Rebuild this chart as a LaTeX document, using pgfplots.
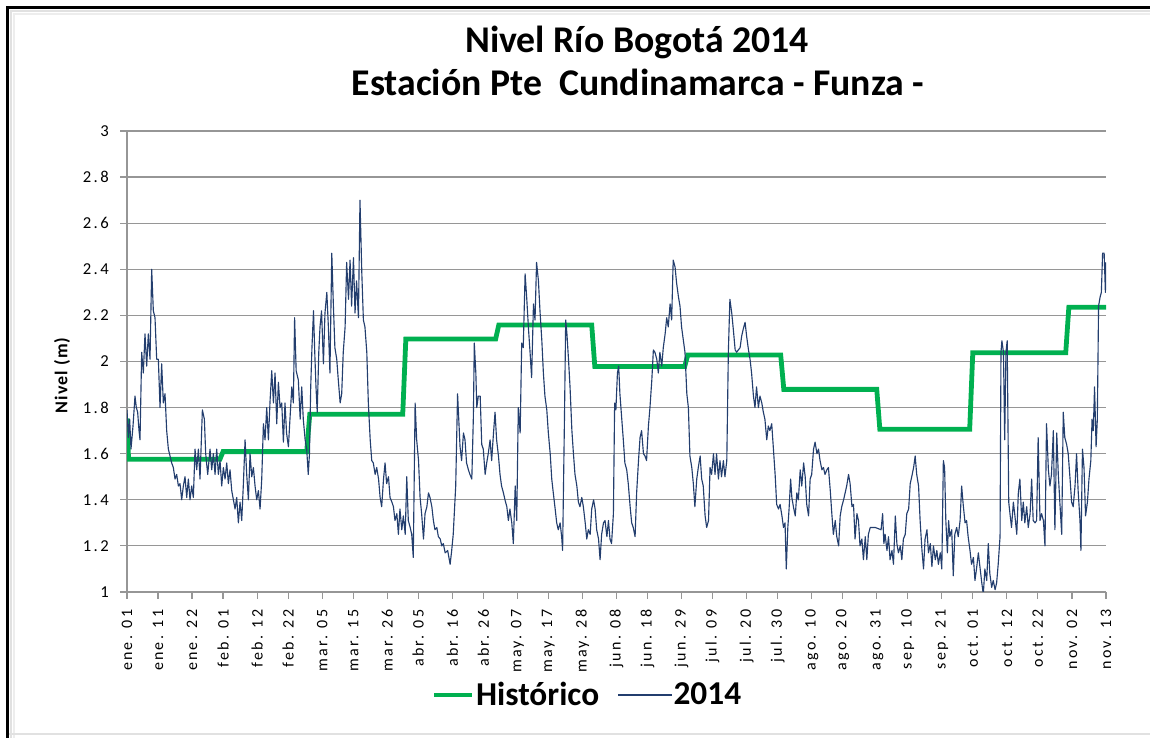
\documentclass[border=0pt]{standalone}
\usepackage{pgfplots}
\pgfplotsset{compat=1.18}
\usepackage{fontspec}
\setmainfont{Carlito}
\newfontfamily\tickfont[LetterSpace=14]{Carlito}
\newfontfamily\ylabfont[LetterSpace=6]{Carlito}
\definecolor{histgreen}{RGB}{0,176,80}
\definecolor{navy}{RGB}{35,62,110}
\definecolor{gridgray}{RGB}{150,150,150}
\definecolor{framegray}{RGB}{225,225,225}
\begin{document}
\begin{tikzpicture}[x=0.75pt,y=0.75pt]
\path[use as bounding box] (0,0) rectangle (1150,738);
% frame of the screenshot
\draw[framegray, line width=1.1pt] (11,0) -- (11,727) -- (1150,727);
\draw[framegray!60, line width=1.1pt] (14,0) -- (14,724) -- (1150,724);
\draw[framegray, line width=1.1pt] (7.5,4) -- (1150,4);
\draw[black, line width=2.25pt] (7.5,0) -- (7.5,730.5) -- (1150,730.5);
% titles
\node[font=\bfseries\fontsize{28.3}{30}\selectfont, anchor=base, inner sep=0pt] at (637,685) {Nivel Río Bogotá 2014};
\node[font=\bfseries\fontsize{28.3}{30}\selectfont, anchor=base, inner sep=0pt] at (638,642) {Estación Pte\ \ Cundinamarca - Funza -};
\begin{axis}[
  at={(95.25pt,109.5pt)}, anchor=south west,
  scale only axis, width=734.25pt, height=345.75pt,
  xmin=0, xmax=316, ymin=1, ymax=3,
  axis x line*=bottom, axis y line*=left,
  axis line style={gridgray, line width=1pt, -},
  ytick={1,1.2,1.4,1.6,1.8,2,2.2,2.4,2.6,2.8,3},
  yticklabels={1,1.2,1.4,1.6,1.8,2,2.2,2.4,2.6,2.8,3},
  ymajorgrids, grid style={gridgray, line width=0.9pt},
  xtick={0,10,21,31,42,52,63,73,84,94,105,115,126,136,147,158,168,179,189,200,210,221,231,242,252,263,273,284,294,305,316},
  xticklabels={ene. 01,ene. 11,ene. 22,feb. 01,feb. 12,feb. 22,mar. 05,mar. 15,mar. 26,abr. 05,abr. 16,abr. 26,may. 07,may. 17,may. 28,jun. 08,jun. 18,jun. 29,jul. 09,jul. 20,jul. 30,ago. 10,ago. 20,ago. 31,sep. 10,sep. 21,oct. 01,oct. 12,oct. 22,nov. 02,nov. 13},
  tick align=outside, major tick length=5pt,
  tick style={gridgray, line width=0.9pt},
  x tick label style={rotate=90, anchor=east, inner sep=0pt, font=\tickfont\fontsize{12}{13}\selectfont},
  y tick label style={anchor=east, inner sep=0pt, font=\tickfont\fontsize{12.5}{13}\selectfont},
  xticklabel shift=8pt, yticklabel shift=8.5pt,
  /pgf/number format/assume math mode=true,
  ylabel={Nivel (m)},
  every axis y label/.style={at={(axis description cs:-0.0664,0.47)}, rotate=90, anchor=center, font=\ylabfont\bfseries\fontsize{13.5}{14}\selectfont},
  legend columns=2,
  legend style={at={(axis description cs:0.3115,-0.2234)}, anchor=west, draw=none, fill=none, inner sep=0pt, outer sep=0pt,
    font=\bfseries\fontsize{25}{27}\selectfont, nodes={inner sep=1pt},
    /tikz/every even column/.append style={column sep=13pt}},
  clip=true,
]
\addplot[histgreen, line width=3.6pt, line join=miter, legend image code/.code={\draw[histgreen, line width=3.6pt] (0pt,0pt) -- (28.5pt,0pt);}] coordinates {
(0,1.753)(0.5,1.576)(30,1.576)(31,1.609)(58,1.609)(59,1.771)(89,1.771)(90,2.098)(119,2.098)(120,2.158)(150,2.158)(151,1.978)(180,1.978)(181,2.028)(211,2.028)(212,1.879)(242,1.879)(243,1.706)(272,1.706)(273,2.038)(303,2.038)(304,2.235)(316,2.235)
};
\addlegendentry{Histórico}
\addplot[navy, line width=0.85pt, line join=round, legend image code/.code={\draw[navy, line width=0.85pt] (0pt,0pt) -- (30pt,0pt); \path (30pt,0pt) -- (40pt,0pt);}] coordinates {
(0,1.79)(0.43,1.67)(0.86,1.75)(1.29,1.62)(1.94,1.72)(2.58,1.85)(3.01,1.80)(3.44,1.78)(3.88,1.70)(4.2,1.66)(4.74,2.04)(5.27,1.95)(5.81,2.12)(6.35,1.98)(6.89,2.12)(7.43,2.01)(7.97,2.40)(8.5,2.22)(9.04,2.19)(9.58,2.01)(10.12,2.01)(10.66,1.80)(11.19,1.99)(11.73,1.82)(12.27,1.86)(12.81,1.70)(13.35,1.62)(13.89,1.59)(14.42,1.56)(14.96,1.54)(15.5,1.49)(16.04,1.51)(16.58,1.46)(17.11,1.47)(17.65,1.40)(18.19,1.46)(18.73,1.50)(19.27,1.41)(19.81,1.49)(20.34,1.40)(20.88,1.46)(21.42,1.41)(21.96,1.62)(22.5,1.53)(23.04,1.62)(23.57,1.49)(24.33,1.79)(24.97,1.75)(25.4,1.60)(26.05,1.51)(26.8,1.62)(27.34,1.53)(27.88,1.60)(28.42,1.51)(28.96,1.62)(29.49,1.51)(30.03,1.57)(30.57,1.46)(31.11,1.54)(31.65,1.49)(32.19,1.56)(32.72,1.47)(33.26,1.53)(33.8,1.44)(34.34,1.40)(34.88,1.36)(35.41,1.41)(35.95,1.30)(36.49,1.39)(37.03,1.31)(37.57,1.47)(38.11,1.66)(38.64,1.51)(39.18,1.40)(39.72,1.60)(40.26,1.50)(40.8,1.54)(41.33,1.46)(41.87,1.40)(42.41,1.44)(42.95,1.36)(43.49,1.49)(44.03,1.73)(44.56,1.66)(45.1,1.80)(45.64,1.66)(46.18,1.83)(46.72,1.96)(47.26,1.82)(47.79,1.95)(48.33,1.73)(48.87,1.91)(49.41,1.80)(49.95,1.82)(50.48,1.65)
(51.0,1.82)(51.5,1.69)(52.1,1.63)(52.6,1.75)(53.2,1.89)(53.7,1.82)(54.1,2.19)(54.6,1.96)(55.3,1.92)(55.9,1.75)(56.4,1.89)(56.9,1.75)(57.5,1.66)(58.0,1.62)(58.5,1.51)(58.9,1.60)(59.3,1.89)(59.7,2.06)(60.2,2.22)(60.6,2.04)(61.0,1.89)(61.4,1.78)(61.9,2.04)(62.3,2.15)(62.8,2.22)(63.4,1.99)(63.9,2.21)(64.5,2.30)(65.0,2.15)(65.5,1.95)(66.1,2.47)(66.6,2.25)(67.1,2.06)(67.7,2.01)(68.2,1.92)(68.8,1.82)(69.3,1.86)(69.8,2.04)(70.4,2.15)(70.9,2.43)(71.5,2.27)(72.0,2.44)(72.5,2.24)(73.1,2.45)(73.6,2.21)(74.1,2.35)(74.7,2.19)(75.2,2.70)(75.8,2.38)(76.3,2.18)(76.8,2.15)(77.4,2.04)(77.9,1.82)(78.5,1.66)(79.0,1.57)(79.5,1.56)(80.1,1.51)(80.6,1.54)(81.2,1.49)(81.7,1.41)(82.2,1.37)(82.8,1.49)(83.3,1.56)(83.8,1.47)(84.4,1.50)(84.9,1.41)(85.5,1.39)(86.0,1.37)(86.5,1.31)(87.1,1.34)(87.6,1.25)(88.1,1.36)(88.7,1.27)(89.2,1.33)(89.8,1.25)(90.3,1.50)(90.8,1.31)(91.4,1.28)(91.9,1.25)(92.4,1.15)(93.0,1.82)(93.5,1.66)(94.1,1.57)(94.6,1.41)(95.1,1.34)(95.7,1.23)(96.2,1.34)(96.8,1.37)(97.3,1.43)(97.8,1.41)(98.4,1.37)(98.9,1.31)(99.4,1.27)(100.0,1.28)(100.5,1.24)(101.1,1.23)(101.6,1.20)(102.1,1.21)(102.7,1.17)
(103.5,1.18)(104.3,1.12)(104.8,1.18)(105.3,1.25)(106.1,1.46)(106.7,1.86)(107.5,1.63)(108.0,1.57)(108.6,1.69)(109.1,1.66)(109.6,1.56)(110.2,1.53)(110.7,1.51)(111.3,1.49)(111.8,1.76)(112.1,2.08)(112.6,1.95)(112.9,1.80)(113.4,1.85)(114.0,1.85)(114.5,1.64)(115.0,1.62)(115.6,1.51)(116.1,1.56)(116.6,1.60)(117.2,1.66)(117.7,1.57)(118.3,1.69)(118.8,1.78)(119.3,1.66)(119.9,1.59)(120.4,1.51)(120.9,1.46)(121.5,1.43)(122.0,1.40)(122.6,1.37)(123.1,1.31)(123.6,1.36)(124.2,1.30)(124.7,1.21)(125.3,1.46)(125.8,1.31)(126.3,1.80)(126.9,1.69)(127.4,2.08)(127.9,2.06)(128.5,2.38)(129.0,2.28)(129.6,2.14)(130.1,2.04)(130.6,1.93)(131.2,2.25)(131.7,2.18)(132.2,2.43)(132.8,2.35)(133.3,2.22)(133.9,2.09)(134.4,1.95)(134.9,1.85)(135.5,1.79)(136.0,1.69)(136.6,1.60)(137.1,1.49)(137.6,1.43)(138.2,1.36)(138.7,1.30)(139.2,1.27)(139.8,1.30)(140.3,1.24)(140.6,1.18)(141.2,1.75)(141.6,2.18)(142.0,2.12)(142.5,2.01)(143.0,1.89)(143.6,1.70)(144.1,1.60)(144.6,1.51)(145.2,1.46)(145.7,1.39)(146.2,1.37)(146.8,1.41)(147.3,1.37)(147.9,1.30)(148.4,1.23)(148.9,1.27)(149.5,1.25)(150.0,1.36)(150.6,1.40)(151.1,1.36)(151.6,1.27)(152.2,1.23)(152.7,1.14)(153.2,1.25)(153.8,1.30)(154.3,1.31)(154.9,1.24)(155.4,1.31)(155.9,1.23)
(156.4,1.21)(157.0,1.34)(157.4,1.82)(157.8,1.79)(158.3,1.95)(158.7,1.98)(159.1,1.86)(159.7,1.75)(160.2,1.66)(160.7,1.56)(161.3,1.53)(161.8,1.47)(162.4,1.37)(162.9,1.30)(163.4,1.28)(164.0,1.24)(164.5,1.43)(165.1,1.57)(165.6,1.67)(166.1,1.70)(166.7,1.60)(167.2,1.59)(167.7,1.57)(168.3,1.72)(168.8,1.80)(169.4,1.92)(169.9,2.05)(170.4,2.04)(171.0,2.01)(171.5,1.95)(172.0,2.04)(172.6,1.98)(173.1,2.06)(173.7,2.12)(174.2,2.19)(174.7,2.15)(175.3,2.25)(175.8,2.18)(176.3,2.44)(176.9,2.41)(177.4,2.34)(178.0,2.28)(178.5,2.24)(179.0,2.15)(179.6,2.09)(180.1,2.04)(180.7,1.86)(181.2,1.80)(181.7,1.59)(182.3,1.54)(182.8,1.47)(183.3,1.37)(183.9,1.49)(184.4,1.54)(185.0,1.59)(185.5,1.49)(186.0,1.46)(186.6,1.33)(187.1,1.28)(187.7,1.31)(188.2,1.54)(188.7,1.51)(189.3,1.60)(189.8,1.51)(190.3,1.60)(190.9,1.49)(191.4,1.57)(191.9,1.50)(192.5,1.57)(193.0,1.50)(193.6,1.57)(194.1,2.04)(194.6,2.27)(195.2,2.21)(195.7,2.14)(196.3,2.05)(196.8,2.04)(197.3,2.05)(197.9,2.06)(198.4,2.11)(198.9,2.14)(199.5,2.17)(200.0,2.11)(200.6,2.05)(201.1,2.01)(201.6,1.95)(202.2,1.85)(202.7,1.80)(203.2,1.89)(203.8,1.80)(204.3,1.85)(204.9,1.82)(205.4,1.78)(205.9,1.75)(206.5,1.66)(207.0,1.72)(207.5,1.70)(208.1,1.73)(208.6,1.63)(209.2,1.51)
(209.7,1.38)(210.3,1.36)(210.8,1.38)(211.4,1.33)(211.9,1.28)(212.4,1.30)(212.8,1.10)(213.3,1.28)(213.7,1.36)(214.2,1.49)(214.6,1.41)(215.1,1.37)(215.7,1.33)(216.2,1.43)(216.7,1.40)(217.3,1.53)(217.8,1.46)(218.4,1.56)(218.9,1.50)(219.4,1.38)(220.0,1.33)(220.5,1.49)(221.0,1.51)(221.6,1.62)(222.1,1.65)(222.7,1.60)(223.2,1.62)(223.7,1.57)(224.3,1.53)(224.8,1.54)(225.3,1.51)(225.9,1.53)(226.4,1.54)(227.0,1.44)(227.5,1.34)(228.0,1.25)(228.6,1.31)(229.1,1.24)(229.7,1.20)(230.2,1.33)(230.7,1.37)(231.3,1.40)(231.8,1.43)(232.3,1.46)(232.9,1.51)(233.4,1.47)(234.0,1.37)(234.5,1.38)(235.0,1.23)(235.6,1.34)(236.1,1.31)(236.6,1.20)(237.2,1.23)(237.7,1.14)(238.3,1.24)(238.8,1.14)(239.3,1.25)(239.9,1.28)(241.5,1.28)(243.4,1.27)(243.9,1.34)(244.3,1.21)(244.7,1.25)(245.3,1.18)(245.8,1.24)(246.3,1.14)(246.9,1.18)(247.4,1.12)(248.0,1.33)(248.5,1.21)(249.0,1.17)(249.6,1.20)(250.1,1.14)(250.6,1.23)(251.2,1.25)(251.7,1.34)(252.3,1.36)(252.8,1.47)(253.3,1.50)(253.9,1.54)(254.4,1.59)(254.9,1.51)(255.5,1.46)(256.0,1.31)(256.6,1.18)(257.1,1.10)(257.6,1.23)(258.2,1.27)(258.7,1.17)(259.3,1.21)(259.8,1.11)(260.3,1.20)(260.9,1.14)(261.4,1.18)(261.9,1.12)(262.5,1.17)(263.0,1.10)(263.5,1.57)
(263.9,1.54)(264.3,1.31)(264.8,1.17)(265.2,1.31)(265.6,1.24)(266.2,1.27)(266.7,1.07)(267.2,1.25)(267.8,1.28)(268.3,1.24)(268.9,1.31)(269.4,1.46)(269.9,1.38)(270.5,1.30)(271.0,1.31)(271.5,1.24)(272.1,1.18)(272.6,1.12)(273.2,1.15)(273.7,1.05)(274.2,1.10)(274.8,1.17)(275.3,1.11)(275.9,1.04)(276.4,0.99)(276.9,1.10)(277.5,1.05)(278.0,1.21)(278.5,1.08)(279.1,1.02)(279.6,1.05)(280.2,1.01)(280.7,1.04)(281.2,1.12)(281.8,1.24)(282.1,2.04)(282.4,2.09)(282.9,2.04)(283.3,1.66)(283.7,2.04)(284.1,2.09)(284.6,1.39)(285.0,1.34)(285.5,1.28)(286.1,1.39)(286.6,1.33)(287.2,1.25)(287.7,1.43)(288.2,1.49)(288.8,1.31)(289.3,1.39)(289.8,1.30)(290.4,1.37)(290.9,1.28)(291.5,1.34)(292.0,1.49)(292.5,1.31)(293.1,1.30)(293.6,1.31)(294.1,1.67)(294.7,1.31)(295.2,1.34)(295.8,1.31)(296.3,1.20)(296.8,1.73)(297.4,1.53)(297.9,1.46)(298.4,1.51)(299.0,1.70)(299.5,1.27)(300.1,1.69)(300.6,1.51)(301.1,1.39)(301.7,1.25)(302.2,1.78)(302.7,1.67)(303.3,1.64)(303.8,1.60)(304.4,1.49)(304.9,1.39)(305.4,1.37)(306.0,1.46)(306.5,1.60)(307.0,1.44)(307.6,1.31)(307.9,1.18)(308.4,1.62)(308.9,1.54)(309.4,1.33)(310.0,1.39)(310.5,1.49)(311.1,1.57)(311.5,1.75)(311.9,1.70)(312.3,1.89)(312.8,1.63)(313.2,1.75)(313.6,2.24)(314.1,2.28)(314.5,2.30)(314.9,2.47)(315.4,2.47)(315.8,2.30)(316.0,2.43)
};
\addlegendentry{2014}
\end{axis}
\end{tikzpicture}
\end{document}
